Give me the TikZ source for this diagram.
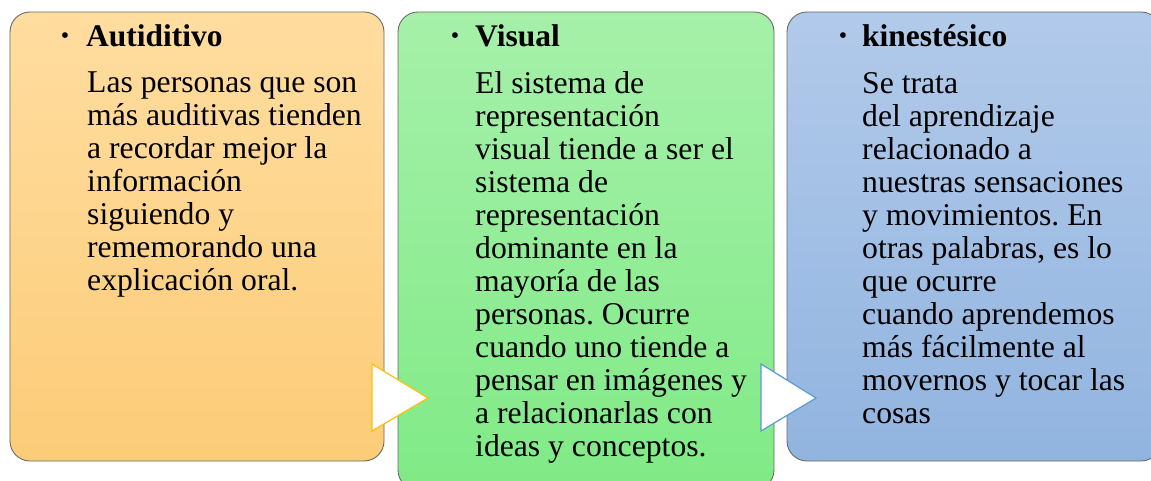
\documentclass[tikz,border=0pt]{standalone}
\usepackage{fontspec}
\setmainfont{Liberation Serif}
\frenchspacing
\definecolor{otop}{RGB}{255,221,160}
\definecolor{obot}{RGB}{252,204,120}
\definecolor{gtop}{RGB}{166,240,170}
\definecolor{gbot}{RGB}{128,234,134}
\definecolor{btop}{RGB}{178,202,234}
\definecolor{bbot}{RGB}{145,180,223}
\definecolor{edge}{RGB}{105,105,105}
\definecolor{arrowo}{RGB}{255,192,0}
\definecolor{arrowb}{RGB}{91,155,213}
\tikzset{
  panel/.style={draw=edge, line width=0.9bp, rounded corners=20bp, rectangle, inner sep=0pt},
  heading/.style={anchor=base west, inner sep=0pt, font=\fontsize{31.6}{33.1}\selectfont\bfseries},
  bulletmark/.style={anchor=center, inner sep=0pt, font=\fontsize{24}{24}\selectfont},
  bodytext/.style={anchor=base west, inner sep=0pt, align=left, font=\fontsize{31.8}{33.1}\selectfont},
  chevron/.style={fill=white, line width=1.2bp, line join=miter}
}
\begin{document}
\begin{tikzpicture}[x=1bp,y=-1bp]
\useasboundingbox (0,0) rectangle (1151,481);
% panels
\node[panel, top color=otop, bottom color=obot, minimum width=374bp, minimum height=449bp] (p1) at (197,236.5) {};
\node[panel, top color=gtop, bottom color=gbot, minimum width=376bp, minimum height=478bp] (p2) at (586,251) {};
\node[panel, top color=btop, bottom color=bbot, minimum width=374bp, minimum height=449bp] (p3) at (974,236.5) {};
% chevrons
\draw[chevron, draw=arrowo] (372,364) -- (428,398) -- (372,431) -- cycle;
\draw[chevron, draw=arrowb] (761,364) -- (816,398) -- (761,431) -- cycle;
% headings
\node[bulletmark] (d1) at (65,38) {\textbullet};
\node[heading] (h1) at (86,47) {Autiditivo};
\node[bulletmark] (d2) at (455,38) {\textbullet};
\node[heading] (h2) at (475,47) {Visual};
\node[bulletmark] (d3) at (843,38) {\textbullet};
\node[heading] (h3) at (862,47) {kinestésico};
% bodies (anchored at the baseline of their last line)
\node[bodytext] (t1) at (87,290.6) {Las personas que son\\más auditivas tienden\\a recordar mejor la\\información\\siguiendo y\\rememorando una\\explicación oral.};
\node[bodytext] (t2) at (475,456.1) {El sistema de\\representación\\visual tiende a ser el\\sistema de\\representación\\dominante en la\\mayoría de las\\personas. Ocurre\\cuando uno tiende a\\pensar en imágenes y\\a relacionarlas con\\ideas y conceptos.};
\node[bodytext] (t3) at (862,423) {Se trata\\del aprendizaje\\relacionado a\\nuestras sensaciones\\y movimientos. En\\otras palabras, es lo\\que ocurre\\cuando aprendemos\\más fácilmente al\\movernos y tocar las\\cosas};
\end{tikzpicture}
\end{document}
